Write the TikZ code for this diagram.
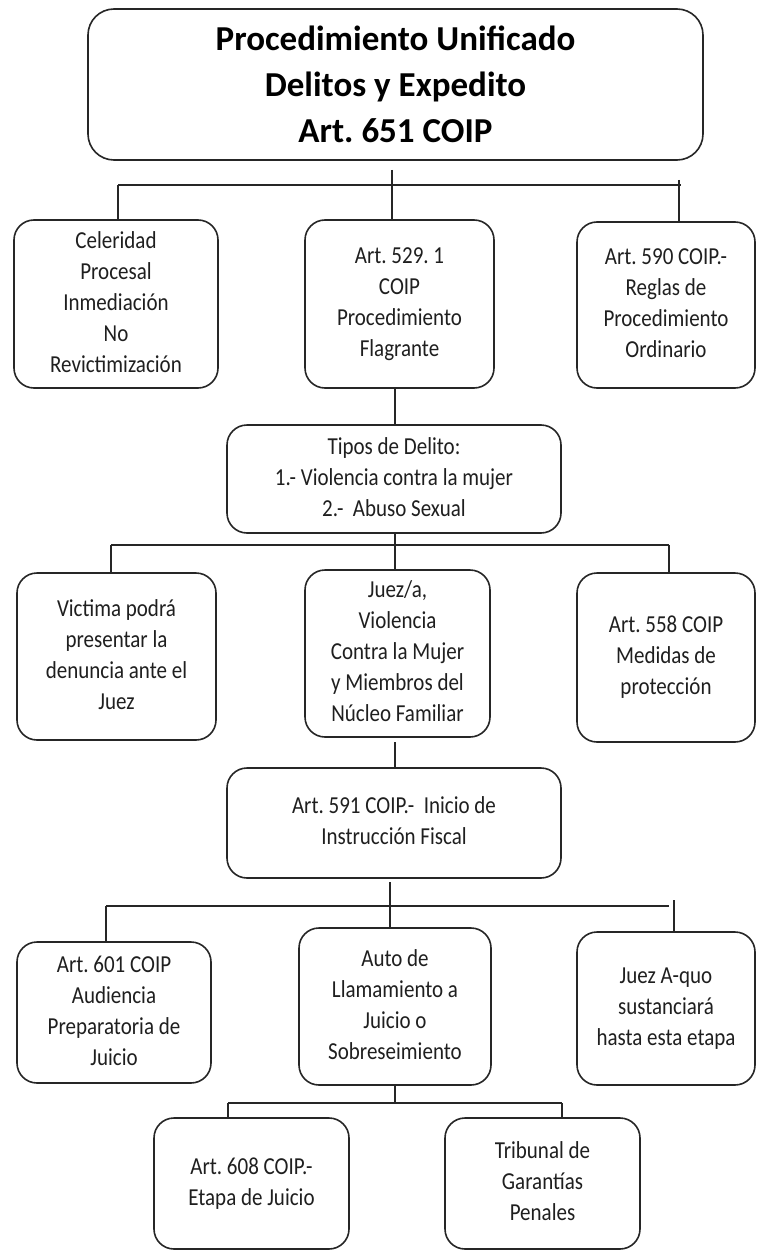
\documentclass[tikz,border=0pt]{standalone}
\usepackage{fontspec}
\setmainfont{Carlito}
\frenchspacing
\newcommand{\stxt}[1]{\scalebox{1}[1.16]{\begin{tabular}{@{}c@{}}#1\end{tabular}}}
\begin{document}
\begin{tikzpicture}[x=1pt,y=-1pt,
  box/.style={draw=black!85, line width=1.6pt, rounded corners=20pt, inner sep=0pt, outer sep=0pt,
    align=center, font=\fontsize{21}{26.7}\selectfont, text=black!88},
  titlebox/.style={box, rounded corners=26pt, font=\fontsize{35}{46}\selectfont\bfseries, text=black},
  conn/.style={draw=black!85, line width=1.5pt}]
\useasboundingbox (0,0) rectangle (757,1252);
\fill[white] (0,0) rectangle (757,1252);

% nodes
\node[titlebox, minimum width=615pt, minimum height=151pt] (title) at (395.5,84.5)
  {Procedimiento Unificado\\Delitos y Expedito\\Art. 651 COIP};

\node[box, minimum width=204pt, minimum height=168pt] (r1l) at (116,304)
  {\stxt{Celeridad\\Procesal\\Inmediación\\No\\Revictimización}};
\node[box, minimum width=189pt, minimum height=168pt] (r1m) at (399.5,304)
  {\stxt{Art. 529. 1\\COIP\\Procedimiento\\Flagrante}};
\node[box, minimum width=178pt, minimum height=166pt] (r1r) at (666,305)
  {\stxt{Art. 590 COIP.-\\Reglas de\\Procedimiento\\Ordinario}};

\node[box, minimum width=334pt, minimum height=108pt] (tipos) at (394,479)
  {\stxt{Tipos de Delito:\\1.- Violencia contra la mujer\\2.-~ Abuso Sexual}};

\node[box, minimum width=199pt, minimum height=167pt] (r2l) at (116.5,656.5)
  {\stxt{Victima podrá\\presentar la\\denuncia ante el\\Juez}};
\node[box, minimum width=185pt, minimum height=167pt] (r2m) at (397.5,653.5)
  {\stxt{Juez/a,\\Violencia\\Contra la Mujer\\y Miembros del\\Núcleo Familiar}};
\node[box, minimum width=178pt, minimum height=169pt] (r2r) at (666,657.5)
  {\stxt{Art. 558 COIP\\Medidas de\\protección}};

\node[box, minimum width=334pt, minimum height=110pt] (instr) at (394,823)
  {\stxt{Art. 591 COIP.-~ Inicio de\\Instrucción Fiscal}};

\node[box, minimum width=194pt, minimum height=141pt] (r3l) at (114,1012.5)
  {\stxt{Art. 601 COIP\\Audiencia\\Preparatoria de\\Juicio}};
\node[box, minimum width=192pt, minimum height=157pt] (r3m) at (395,1006.5)
  {\stxt{Auto de\\Llamamiento a\\Juicio o\\Sobreseimiento}};
\node[box, minimum width=178pt, minimum height=153pt] (r3r) at (666,1008.5)
  {\stxt{Juez A-quo\\sustanciará\\hasta esta etapa}};

\node[box, minimum width=195pt, minimum height=131pt] (b1) at (251.5,1183.5)
  {\stxt{Art. 608 COIP.-\\Etapa de Juicio}};
\node[box, minimum width=195pt, minimum height=131pt] (b2) at (542.5,1183.5)
  {\stxt{Tribunal de\\Garantías\\Penales}};

% level 1 connectors
\coordinate (j1) at (392,185);
\coordinate (j1l) at (118,185);
\coordinate (j1r) at (681,185);
\coordinate (t1) at (679,180);
\draw[conn] (j1l) -- (j1r);
\draw[conn] ([yshift=-10pt]title.south -| j1) -- (r1m.north -| j1);
\draw[conn] (j1l) -- (r1l.north -| j1l);
\draw[conn] (t1) -- (r1r.north -| t1);

% level 2 connectors
\coordinate (j2) at (395,545);
\coordinate (j2l) at (111,545);
\coordinate (j2r) at (669,545);
\draw[conn] (r1m.south -| j2) -- (tipos.north -| j2);
\draw[conn] (tipos.south -| j2) -- (r2m.north -| j2);
\draw[conn] (j2l) -- (j2r);
\draw[conn] (j2l) -- (r2l.north -| j2l);
\draw[conn] (j2r) -- (r2r.north -| j2r);

% level 3 connectors
\coordinate (k3) at (395,742);
\draw[conn] (k3) -- (instr.north -| k3);
\coordinate (j3) at (390,906);
\coordinate (j3l) at (106,906);
\coordinate (j3r) at (669,906);
\coordinate (t3) at (674,900);
\draw[conn] ([yshift=-4pt]instr.south -| j3) -- (r3m.north -| j3);
\draw[conn] (j3l) -- (j3r);
\draw[conn] (j3l) -- (r3l.north -| j3l);
\draw[conn] (t3) -- (r3r.north -| t3);

% level 4 connectors
\coordinate (j4) at (395,1103);
\coordinate (j4l) at (228,1103);
\coordinate (j4r) at (562,1103);
\draw[conn] (r3m.south -| j4) -- (j4);
\draw[conn] (j4l) -- (j4r);
\draw[conn] (j4l) -- (b1.north -| j4l);
\draw[conn] (j4r) -- (b2.north -| j4r);
\end{tikzpicture}
\end{document}
